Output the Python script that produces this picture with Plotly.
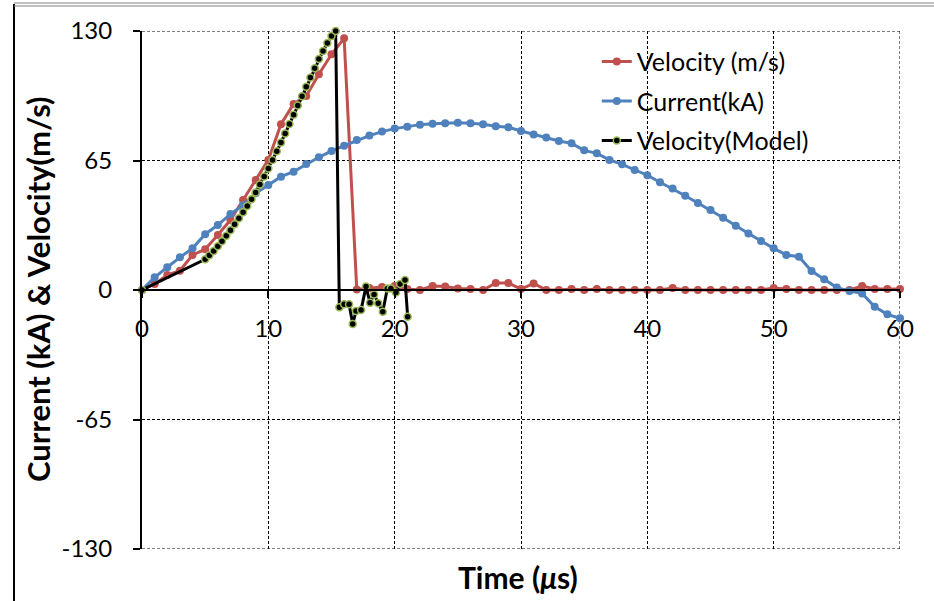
import plotly.graph_objects as go

# ---- data ----
t_exp = list(range(0, 61))
velocity_exp = [0, 3, 7.5, 9.7, 17.6, 20.4, 27.6, 35.1, 45.2, 55.2, 65.3, 83.2, 93.4, 97.4, 108.3, 118.3, 126.3,
                0.3, 1, 1.5, 2, 0.5, 0, 2, 1.7, 0.8, 0.5, 0, 3.5, 3.5, 0.5, 3.3, 0, 0, 0.5, 0, 0.5, 0, 0, 0, 0,
                0, 1, 0, 0, 0, 0, 0, 0, 0, 1, 0.5, 0, 0, 0, 0, 0, 2, 0.5, 0.5, 0.5]
current = [0, 6.4, 11.4, 16.4, 20.9, 28, 32.6, 38.1, 42.5, 48.5, 52.7, 56.9, 59.4, 63.2, 66.6, 69.8, 72.4,
           75.3, 77.5, 79.5, 81, 82, 83, 83.5, 83.7, 84, 83.7, 83.2, 82.2, 81.7, 79.8, 78.1, 76.5, 74.8, 73.6,
           70.1, 68.6, 65.3, 63.1, 60.2, 57.6, 54.1, 50.9, 47.3, 43.7, 40.2, 36.3, 32.3, 28.3, 24.6, 20.9,
           17.6, 16.7, 9.5, 5.4, 1.2, -0.5, -1.7, -8.4, -12.2, -14.2]
t_model = [0, 5.0, 5.33, 5.67, 6.0, 6.33, 6.67, 7.0, 7.33, 7.67, 8.0, 8.33, 8.67, 9.0, 9.33, 9.67, 10.0,
           10.33, 10.67, 11.0, 11.33, 11.67, 12.0, 12.33, 12.67, 13.0, 13.33, 13.67, 14.0, 14.33, 14.67, 15.0,
           15.33, 15.62, 16.0, 16.39, 16.68, 16.94, 17.34, 17.73, 18.05, 18.37, 18.7, 19.06, 19.42, 19.7,
           20.1, 20.43, 20.82, 21.03]
velocity_model = [0, 15.4, 17.5, 19.6, 22, 24.5, 27.2, 30, 33, 36, 39, 42.2, 45.5, 49, 53, 57, 61,
                  65.3, 69.6, 74, 78.6, 83.3, 88, 92.6, 97.3, 102, 106.7, 111.3, 116, 120, 124, 127.5,
                  130, -8.7, -7.2, -7.2, -17.1, -10.5, -10, 1.7, -6.4, -2.2, -6.7, -10.9, 0.8, 0.8,
                  -1.2, 3, 5, -13.4]
x_ticks = [0, 10, 20, 30, 40, 50, 60]
y_ticks = [-130, -65, 0, 65, 130]
y_tick_text = ["-130", "-65", "0", "65", "130"]

FONT = "Lato, 'Open Sans', sans-serif"
GRID = dict(color="black", width=1, dash="3px,2px")

fig = go.Figure()
fig.add_trace(go.Scatter(x=t_exp, y=velocity_exp, name="Velocity (m/s)", mode="lines+markers",
                         line=dict(color="#C0504D", width=3), marker=dict(size=8, color="#C0504D"),
                         cliponaxis=False, legendgroup="a"))
fig.add_trace(go.Scatter(x=t_exp, y=current, name="Current(kA)", mode="lines+markers",
                         line=dict(color="#4F81BD", width=3), marker=dict(size=8, color="#4F81BD"),
                         cliponaxis=False, legendgroup="b"))
fig.add_trace(go.Scatter(x=t_model, y=velocity_model, name="Velocity(Model)", mode="lines+markers",
                         line=dict(color="black", width=3),
                         marker=dict(size=7, color="black", line=dict(color="#9BBB59", width=1.5)),
                         cliponaxis=False, legendgroup="c"))

fig.update_layout(
    width=934, height=601,
    margin=dict(l=142, r=34, t=31, b=52),
    paper_bgcolor="white", plot_bgcolor="white",
    font=dict(family=FONT, color="black", size=24),
    showlegend=True,
    legend=dict(x=0.6, y=0.985, xanchor="left", yanchor="top", bgcolor="rgba(0,0,0,0)",
                font=dict(size=25, family=FONT), traceorder="grouped", tracegroupgap=4,
                itemwidth=30),
    xaxis=dict(range=[0, 60], tickvals=x_ticks, ticks="outside", ticklen=7, tickwidth=2, tickcolor="black",
               showline=True, linecolor="black", linewidth=2, anchor="free", position=0.5,
               showgrid=True, gridcolor="black", gridwidth=1, griddash="3px,2px", zeroline=False,
               ticklabelstandoff=10, tickfont=dict(size=24)),
    yaxis=dict(range=[-130, 130], tickvals=y_ticks, ticktext=y_tick_text, ticks="outside", ticklen=7,
               tickwidth=2, tickcolor="black",
               showline=True, linecolor="black", linewidth=2,
               showgrid=True, gridcolor="black", gridwidth=1, griddash="3px,2px", zeroline=False,
               ticklabelstandoff=16, tickfont=dict(size=24)),
)

# grid lines at the range edges (plotly skips them)
fig.add_shape(type="line", xref="x", yref="y", x0=x_ticks[0], x1=x_ticks[-1], y0=y_ticks[-1], y1=y_ticks[-1],
              line=GRID, layer="below")
fig.add_shape(type="line", xref="x", yref="y", x0=x_ticks[0], x1=x_ticks[-1], y0=y_ticks[0], y1=y_ticks[0],
              line=GRID, layer="below")
fig.add_shape(type="line", xref="x", yref="y", x0=x_ticks[-1], x1=x_ticks[-1], y0=y_ticks[0], y1=y_ticks[-1],
              line=GRID, layer="below")

fig.add_annotation(text="<b>Time (<i>μ</i>s)</b>", xref="paper", yref="paper", x=(518 - 142) / 758,
                   y=(549 - 577) / 518, showarrow=False, font=dict(size=30, family=FONT),
                   xanchor="center", yanchor="middle")
fig.add_annotation(text="<b>Current (kA) & Velocity(m/s)</b>", xref="paper", yref="paper",
                   x=(38 - 142) / 758, y=(549 - 289) / 518, showarrow=False, textangle=-90,
                   font=dict(size=31, family=FONT), xanchor="center", yanchor="middle")

# outer frame lines (screenshot border)
fig.add_shape(type="line", xref="paper", yref="paper", x0=(14 - 142) / 758, x1=(14 - 142) / 758,
              y0=(549 - 4) / 518, y1=(549 - 601) / 518, line=dict(color="black", width=2))
fig.add_shape(type="line", xref="paper", yref="paper", x0=(14 - 142) / 758, x1=(934 - 142) / 758,
              y0=(549 - 3) / 518, y1=(549 - 3) / 518, line=dict(color="#808080", width=1))
fig.add_shape(type="line", xref="paper", yref="paper", x0=(14 - 142) / 758, x1=(934 - 142) / 758,
              y0=(549 - 6) / 518, y1=(549 - 6) / 518, line=dict(color="#808080", width=1))

fig.write_html("out.html")
